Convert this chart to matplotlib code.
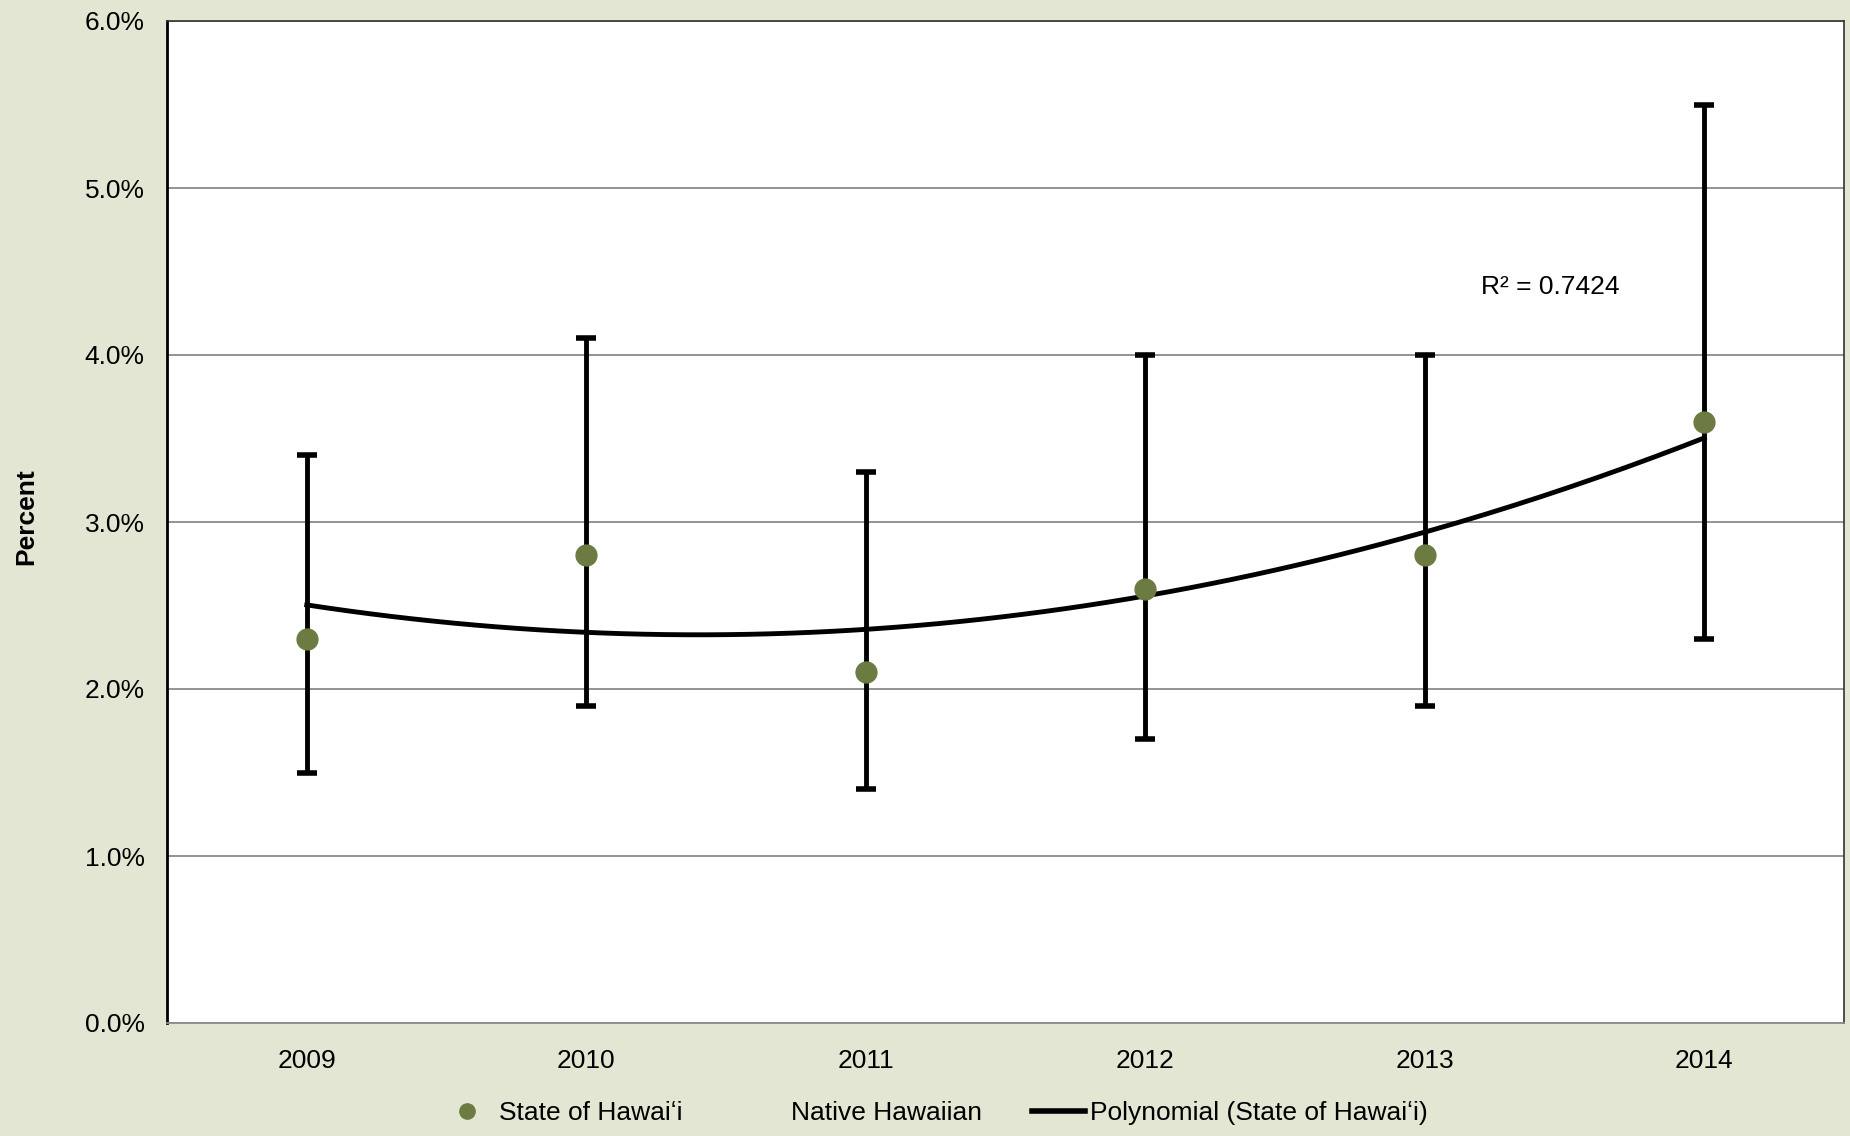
import numpy as np
import matplotlib
matplotlib.use("Agg")
import matplotlib.pyplot as plt
from matplotlib.lines import Line2D

# data
years = [2009, 2010, 2011, 2012, 2013, 2014]
state_pct = [2.3, 2.8, 2.1, 2.6, 2.8, 3.6]
ci_low = [1.5, 1.9, 1.4, 1.7, 1.9, 2.3]
ci_high = [3.4, 4.1, 3.3, 4.0, 4.0, 5.5]
y_ticks = [0, 1, 2, 3, 4, 5, 6]
r2_label = "R\u00b2 = 0.7424"

bg = "#E2E6D3"
olive = "#6C7B41"
fonts = ["Liberation Sans", "DejaVu Sans"]

plt.rcParams['font.family'] = fonts

fig = plt.figure(figsize=(18.5, 11.36), dpi=100, facecolor=bg)
ax = fig.add_axes([167 / 1850, 1 - 1023 / 1136, (1844 - 167) / 1850, (1023 - 21) / 1136])
ax.set_facecolor("white")

x = np.array(years)
y = np.array(state_pct)
yerr = [y - np.array(ci_low), np.array(ci_high) - y]

ax.errorbar(x, y, yerr=yerr, fmt='none', ecolor='black', elinewidth=3.5,
            capsize=7, capthick=4, zorder=3)
ax.plot(x, y, 'o', color=olive, markersize=15, zorder=5)

# second order trend line through the state values
coef = np.polyfit(x - 2009, y, 2)
xs = np.linspace(2009, 2014, 200)
ax.plot(xs, np.polyval(coef, xs - 2009), color='black', linewidth=3.5, zorder=4)

ax.text(2013.2, 4.41, r2_label, fontsize=19, va='center', ha='left')

ax.set_xlim(2008.5, 2014.5)
ax.set_ylim(0, 6)
ax.set_xticks(years)
ax.set_xticklabels([str(v) for v in years])
ax.set_yticks(y_ticks)
ax.set_yticklabels(["%.1f%%" % v for v in y_ticks])
ax.tick_params(axis='both', length=0, labelsize=19)
ax.tick_params(axis='y', pad=16)
ax.tick_params(axis='x', pad=19)
ax.yaxis.grid(True, color='#8a8a8a', linewidth=1.3)
ax.set_axisbelow(True)

ax.spines['left'].set_color('black')
ax.spines['left'].set_linewidth(2)
for s in ['top', 'right']:
    ax.spines[s].set_color('#333333')
    ax.spines[s].set_linewidth(1.2)
ax.spines['bottom'].set_color('#8a8a8a')
ax.spines['bottom'].set_linewidth(1.3)

fig.text(26 / 1850, 1 - 517 / 1136, "Percent", rotation=90, fontsize=19,
         fontweight='bold', ha='center', va='center')

handles = [
    Line2D([], [], marker='o', color=olive, linestyle='none', markersize=11),
    Line2D([], [], linestyle='none'),
    Line2D([], [], color='black', linewidth=4),
]
labels = ["State of Hawai\u02bbi", "Native Hawaiian", "Polynomial (State of Hawai\u02bbi)"]
fig.legend(handles, labels, loc='center', bbox_to_anchor=(0.505, 1 - 1113 / 1136),
           ncol=3, frameon=False, fontsize=19,
           columnspacing=1.9, handlelength=2.0, handletextpad=0.2)

fig.savefig("out.png", dpi=100, facecolor=bg)
